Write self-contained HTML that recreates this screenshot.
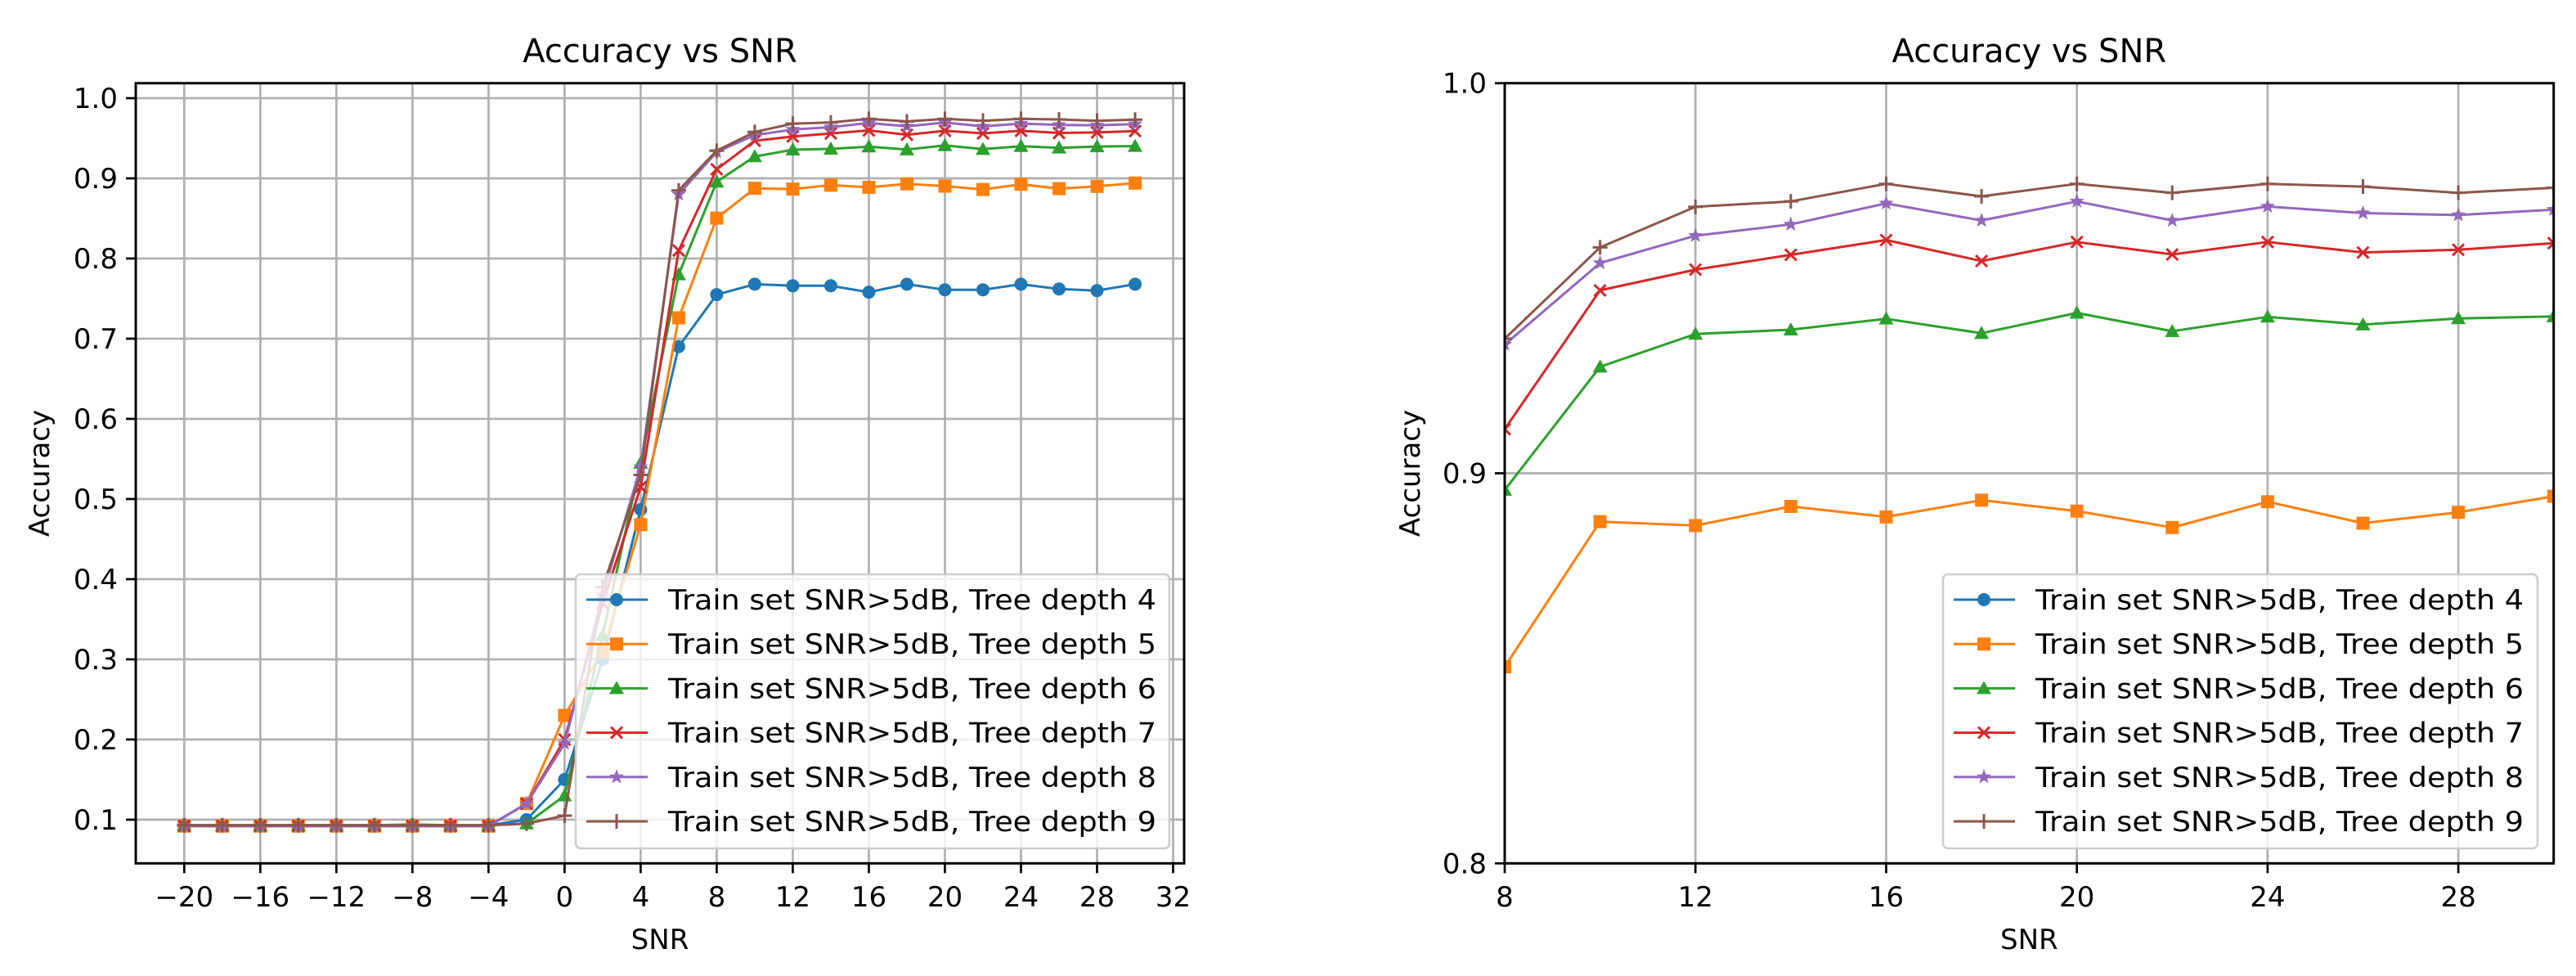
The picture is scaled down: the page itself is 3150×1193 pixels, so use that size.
<!DOCTYPE html>
<html><head><meta charset="utf-8"><style>
html,body{margin:0;padding:0;background:#fff;width:3150px;height:1193px;overflow:hidden}
svg{display:block;font-family:"DejaVu Sans","Liberation Sans",sans-serif;overflow:hidden}
</style></head><body>
<svg id="chart" width="3150" height="1193" viewBox="0 0 3150 1193" xmlns="http://www.w3.org/2000/svg">
<defs>
<clipPath id="clipL"><rect x="166" y="101.7" width="1282" height="953.6"/></clipPath>
<clipPath id="clipR"><rect x="1840" y="101.7" width="1282.7" height="953.6"/></clipPath>
</defs>
</svg>
<script>
const snr = [-20,-18,-16,-14,-12,-10,-8,-6,-4,-2,0,2,4,6,8,10,12,14,16,18,20,22,24,26,28,30];
const depth4 = [0.093,0.093,0.093,0.093,0.093,0.093,0.093,0.093,0.093,0.100,0.150,0.300,0.487,0.690,0.755,0.768,0.766,0.766,0.758,0.768,0.761,0.761,0.768,0.762,0.760,0.768];
const depth5 = [0.092,0.092,0.092,0.092,0.092,0.092,0.092,0.092,0.092,0.120,0.230,0.310,0.468,0.726,0.8504,0.8876,0.8866,0.8915,0.8888,0.8931,0.8903,0.8861,0.8927,0.8872,0.8900,0.8941];
const depth6 = [0.093,0.093,0.093,0.093,0.093,0.093,0.094,0.093,0.093,0.095,0.130,0.330,0.545,0.780,0.8957,0.9273,0.9357,0.9368,0.9396,0.9359,0.9411,0.9364,0.9401,0.9381,0.9397,0.9402];
const depth7 = [0.092,0.092,0.092,0.092,0.092,0.092,0.092,0.092,0.092,0.120,0.200,0.370,0.515,0.810,0.9113,0.9469,0.9522,0.9560,0.9598,0.9544,0.9593,0.9561,0.9593,0.9566,0.9573,0.9590];
const depth8 = [0.092,0.092,0.092,0.092,0.092,0.092,0.092,0.092,0.092,0.120,0.195,0.380,0.540,0.880,0.9330,0.9539,0.9609,0.9638,0.9692,0.9648,0.9697,0.9648,0.9684,0.9667,0.9662,0.9676];
const depth9 = [0.093,0.093,0.093,0.093,0.093,0.093,0.093,0.093,0.093,0.095,0.105,0.390,0.530,0.885,0.9345,0.9579,0.9683,0.9697,0.9742,0.9710,0.9742,0.9719,0.9742,0.9735,0.9719,0.9732];
const seriesLabels = ["Train set SNR>5dB, Tree depth 4","Train set SNR>5dB, Tree depth 5","Train set SNR>5dB, Tree depth 6","Train set SNR>5dB, Tree depth 7","Train set SNR>5dB, Tree depth 8","Train set SNR>5dB, Tree depth 9"];
const leftXTicks = [-20,-16,-12,-8,-4,0,4,8,12,16,20,24,28,32];
const leftYTicks = [0.1,0.2,0.3,0.4,0.5,0.6,0.7,0.8,0.9,1.0];
const rightXTicks = [8,12,16,20,24,28];
const rightYTicks = [0.8,0.9,1.0];

const allSeries=[depth4,depth5,depth6,depth7,depth8,depth9];
const colors=["#1f77b4","#ff7f0e","#2ca02c","#d62728","#9467bd","#8c564b"];
const markers=["circle","square","triangle","x","star","plus"];
const NS="http://www.w3.org/2000/svg";
const svg=document.getElementById('chart');
function mk(tag,attrs,parent){const e=document.createElementNS(NS,tag);for(const k in attrs)e.setAttribute(k,attrs[k]);(parent||svg).appendChild(e);return e;}
function fmtX(v){return v<0?"\u2212"+(-v):String(v);}

const panels=[
 {name:"left",L:166,R:1448,T:101.7,B:1055.3,xmin:-22.55,xmax:32.58,ymin:0.0455,ymax:1.0187,xt:leftXTicks,yt:leftYTicks,clip:"clipL",ylabX:48,legX:704,legW:726},
 {name:"right",L:1840,R:3122.7,T:101.7,B:1055.3,xmin:8,xmax:30,ymin:0.8,ymax:1.0,xt:rightXTicks,yt:rightYTicks,clip:"clipR",ylabX:1724,legX:2376,legW:727}
];

function drawMarker(g,type,x,y,c){
 let e;
 if(type==="circle"){e=mk('circle',{cx:x,cy:y,r:8,fill:c},g);}
 else if(type==="square"){e=mk('rect',{x:x-8,y:y-8,width:16,height:16,fill:c},g);}
 else if(type==="triangle"){e=mk('path',{d:`M${x},${y-9}L${x+9},${y+7}L${x-9},${y+7}Z`,fill:c},g);}
 else if(type==="x"){e=mk('path',{d:`M${x-7},${y-7}L${x+7},${y+7}M${x-7},${y+7}L${x+7},${y-7}`,stroke:c,'stroke-width':3,fill:'none'},g);}
 else if(type==="star"){let p="";for(let i=0;i<10;i++){const r=i%2?4:9.5;const a=-Math.PI/2+i*Math.PI/5;p+=(i?"L":"M")+(x+r*Math.cos(a)).toFixed(1)+","+(y+r*Math.sin(a)).toFixed(1);}e=mk('path',{d:p+"Z",fill:c},g);}
 else {e=mk('path',{d:`M${x-9},${y}L${x+9},${y}M${x},${y-9}L${x},${y+9}`,stroke:c,'stroke-width':3,fill:'none'},g);}
 
 
}

panels.forEach(P=>{
 const sx=v=>P.L+(v-P.xmin)/(P.xmax-P.xmin)*(P.R-P.L);
 const sy=v=>P.B-(v-P.ymin)/(P.ymax-P.ymin)*(P.B-P.T);
 const g=mk('g',{});
 
 
 P.xt.forEach(t=>{const x=sx(t);
  const gl=mk('line',{x1:x,x2:x,y1:P.T,y2:P.B,stroke:'#b0b0b0','stroke-width':2.7},g);
  
  const tk=mk('line',{x1:x,x2:x,y1:P.B,y2:P.B+12,stroke:'#000','stroke-width':2.7},g);
  
  const tl=mk('text',{x:x,y:1108,'text-anchor':'middle','font-size':34,fill:'#000'},g);tl.textContent=fmtX(t);
  
 });
 P.yt.forEach(t=>{const y=sy(t);
  const gl=mk('line',{x1:P.L,x2:P.R,y1:y,y2:y,stroke:'#b0b0b0','stroke-width':2.7},g);
  
  const tk=mk('line',{x1:P.L-12,x2:P.L,y1:y,y2:y,stroke:'#000','stroke-width':2.7},g);
  
  const tl=mk('text',{x:P.L-22,y:y+12,'text-anchor':'end','font-size':34,fill:'#000'},g);tl.textContent=t.toFixed(1);
  
 });
 const sg=mk('g',{'clip-path':`url(#${P.clip})`},g);
 
 allSeries.forEach((s,i)=>{
  const d=s.map((v,j)=>(j?"L":"M")+sx(snr[j]).toFixed(1)+","+sy(v).toFixed(1)).join("");
  const pl=mk('path',{d:d,fill:'none',stroke:colors[i],'stroke-width':3,'stroke-linejoin':'round'},sg);
  
  s.forEach((v,j)=>drawMarker(sg,markers[i],sx(snr[j]),sy(v),colors[i]));
 });
 const fr=mk('rect',{x:P.L,y:P.T,width:P.R-P.L,height:P.B-P.T,fill:'none',stroke:'#000','stroke-width':3},g);
 
 const cx=(P.L+P.R)/2;
 const ti=mk('text',{x:cx,y:76,'text-anchor':'middle','font-size':40,fill:'#000'},g);ti.textContent="Accuracy vs SNR";
 
 const xl=mk('text',{x:cx,y:1160,'text-anchor':'middle','font-size':34,fill:'#000'},g);xl.textContent="SNR";
 
 const yl=mk('text',{x:P.ylabX+12,y:(P.T+P.B)/2,'text-anchor':'middle','font-size':34,fill:'#000',transform:`rotate(-90 ${P.ylabX+12} ${(P.T+P.B)/2})`},g);yl.textContent="Accuracy";
 
 const lg=mk('g',{},g);
 
 mk('rect',{x:P.legX,y:702,width:P.legW,height:335,rx:6,fill:'#fff','fill-opacity':0.8,stroke:'#cccccc','stroke-width':2.5},lg);
 seriesLabels.forEach((lab,i)=>{
  const y=733+i*54.2;
  const ent=mk('g',{},lg);
  
  mk('line',{x1:P.legX+13,x2:P.legX+88,y1:y,y2:y,stroke:colors[i],'stroke-width':3},ent);
  drawMarker(ent,markers[i],P.legX+50,y,colors[i]);
  const t=mk('text',{x:P.legX+113,y:y+12,'font-size':34,fill:'#000',textLength:597,lengthAdjust:'spacingAndGlyphs'},ent);t.textContent=lab;
 });
});
</script>
</body></html>
